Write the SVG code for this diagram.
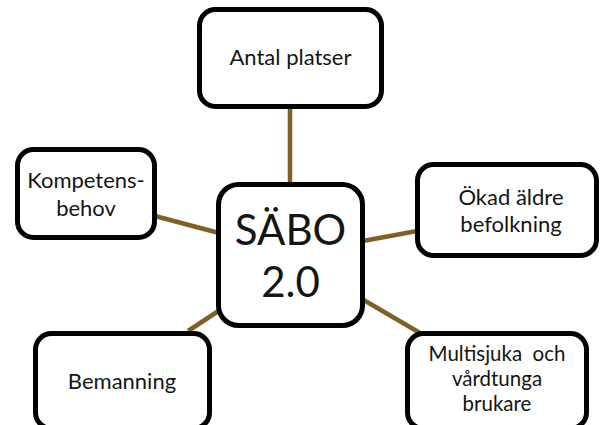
<svg xmlns="http://www.w3.org/2000/svg" width="601" height="425" viewBox="0 0 601 425">
  <style>
    .box { fill: #ffffff; stroke: #000000; stroke-width: 5; }
    .link { stroke: #7f6127; stroke-width: 4.5; fill: none; }
    text { font-family: Lato, "Open Sans", "Liberation Sans", sans-serif; fill: #151515; text-anchor: middle; }
    .lbl { font-size: 22px; }
    .lbl-s { font-size: 20.5px; }
    .hub { font-size: 42px; }
  </style>
  <rect width="601" height="425" fill="#ffffff"/>
  <g id="connectors">
    <line class="link" x1="290" y1="106" x2="290" y2="184"/>
    <line class="link" x1="155" y1="216" x2="219" y2="233"/>
    <line class="link" x1="363" y1="241" x2="417" y2="231"/>
    <line class="link" x1="188" y1="331" x2="220" y2="310"/>
    <line class="link" x1="362" y1="299" x2="420" y2="333"/>
  </g>
  <g id="n-antal">
    <rect class="box" x="199.5" y="9.5" width="182" height="97" rx="16"/>
    <text class="lbl" x="290.5" y="65">Antal platser</text>
  </g>
  <g id="n-kompetens">
    <rect class="box" x="17.5" y="149.5" width="137" height="88" rx="16"/>
    <text class="lbl" x="86" y="188">Kompetens-</text>
    <text class="lbl" x="86" y="216">behov</text>
  </g>
  <g id="n-sabo">
    <rect class="box" x="218.5" y="184.5" width="144" height="141" rx="20"/>
    <text class="hub" x="290.5" y="245">SÄBO</text>
    <text class="hub" x="290.5" y="297">2.0</text>
  </g>
  <g id="n-okad">
    <rect class="box" x="417.5" y="164.5" width="179" height="91" rx="16"/>
    <text class="lbl" x="511" y="205">Ökad äldre</text>
    <text class="lbl" x="511" y="232">befolkning</text>
  </g>
  <g id="n-bemanning">
    <rect class="box" x="35.5" y="333.5" width="174" height="95" rx="16"/>
    <text class="lbl" x="122" y="389">Bemanning</text>
  </g>
  <g id="n-multisjuka">
    <rect class="box" x="407.5" y="333.5" width="179" height="95" rx="16"/>
    <text class="lbl-s" x="497" y="361" xml:space="preserve">Multisjuka  och</text>
    <text class="lbl-s" x="497" y="386">vårdtunga</text>
    <text class="lbl-s" x="497" y="411">brukare</text>
  </g>
</svg>
